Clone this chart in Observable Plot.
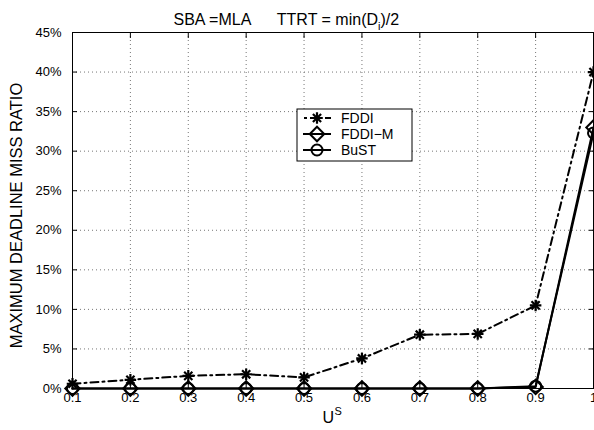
<!DOCTYPE html>
<html>
<head>
<meta charset="utf-8">
<script src="https://cdn.jsdelivr.net/npm/d3@7"></script>
<script src="https://cdn.jsdelivr.net/npm/@observablehq/plot@0.6"></script>
<style>
  html, body { margin: 0; padding: 0; background: #fff; }
  #chart { position: relative; width: 594px; height: 430px; }
  svg { font-family: "Liberation Sans", Arial, sans-serif; }
</style>
</head>
<body>
<div id="chart"></div>
<script>
// ---- data ----
const us = [0.1, 0.2, 0.3, 0.4, 0.5, 0.6, 0.7, 0.8, 0.9, 1.0];
const fddi  = [0.6, 1.1, 1.6, 1.8, 1.4, 3.8, 6.8, 6.9, 10.5, 40.0];
const fddiM = [0, 0, 0, 0, 0, 0, 0, 0, 0.2, 33.0];
const bust  = [0, 0, 0, 0, 0, 0, 0, 0, 0.3, 32.3];
const seriesNames = ["FDDI", "FDDI\u2212M", "BuST"];
const xTicks = [0.1, 0.2, 0.3, 0.4, 0.5, 0.6, 0.7, 0.8, 0.9, 1.0];
const xTickLabels = ["0.1", "0.2", "0.3", "0.4", "0.5", "0.6", "0.7", "0.8", "0.9", "1"];
const yTicks = [0, 5, 10, 15, 20, 25, 30, 35, 40, 45];
const yTickLabels = ["0%", "5%", "10%", "15%", "20%", "25%", "30%", "35%", "40%", "45%"];

const rows = (name, vals) => us.map((u, i) => ({u, v: vals[i], name}));
const dFDDI = rows(seriesNames[0], fddi);
const dFDDIM = rows(seriesNames[1], fddiM);
const dBuST = rows(seriesNames[2], bust);

const W = 594, H = 430;
const mL = 72, mR = 1, mT = 32, mB = 42;
const fs = 13;

const plot = Plot.plot({
  width: W, height: H,
  marginLeft: mL, marginRight: mR, marginTop: mT, marginBottom: mB,
  style: {fontFamily: "'Liberation Sans', Arial, sans-serif", fontSize: fs + "px", color: "#000", background: "#fff"},
  x: {domain: [0.1, 1.0], ticks: xTicks},
  y: {domain: [0, 45], ticks: yTicks},
  marks: [
    Plot.gridX(xTicks, {stroke: "#777", strokeOpacity: 1, strokeDasharray: "1,3"}),
    Plot.gridY(yTicks, {stroke: "#777", strokeOpacity: 1, strokeDasharray: "1,3"}),
    Plot.axisX(xTicks, {tickSize: -5, tickPadding: 9, tickFormat: d => xTickLabels[xTicks.indexOf(d)], label: null, fontSize: fs}),
    Plot.axisX(xTicks, {anchor: "top", tickSize: -5, tickFormat: () => "", label: null}),
    Plot.axisY(yTicks, {tickSize: -5, tickPadding: 16, tickFormat: d => yTickLabels[yTicks.indexOf(d)], label: null, fontSize: fs}),
    Plot.axisY(yTicks, {anchor: "right", tickSize: -5, tickFormat: () => "", label: null}),
    Plot.frame({stroke: "#000", strokeWidth: 1}),
    // series lines
    Plot.line(dFDDI, {x: "u", y: "v", stroke: "#000", strokeWidth: 2, strokeDasharray: "8,4,2,4"}),
    Plot.line(dFDDIM, {x: "u", y: "v", stroke: "#000", strokeWidth: 2}),
    Plot.line(dBuST, {x: "u", y: "v", stroke: "#000", strokeWidth: 2}),
    // markers
    Plot.dot(dFDDI, {x: "u", y: "v", symbol: "plus", r: 3.8, stroke: "#000", strokeWidth: 2.2}),
    Plot.dot(dFDDI, {x: "u", y: "v", symbol: "times", r: 3.8, stroke: "#000", strokeWidth: 2.2}),
    Plot.dot(dFDDIM, {x: "u", y: "v", symbol: "diamond2", r: 6.5, stroke: "#000", fill: "none", strokeWidth: 2}),
    Plot.dot(dBuST, {x: "u", y: "v", symbol: "circle", r: 5.5, stroke: "#000", fill: "none", strokeWidth: 2}),
    // axis labels and title
    Plot.text(["MAXIMUM DEADLINE MISS RATIO"], {frameAnchor: "left", rotate: -90, dx: -56, dy: 5, textAnchor: "middle", fontSize: 16.5}),
    Plot.text(["U"], {frameAnchor: "bottom-left", dx: 250, dy: 34, fontSize: 16, textAnchor: "start"}),
    Plot.text(["S"], {frameAnchor: "bottom-left", dx: 262, dy: 26, fontSize: 11, textAnchor: "start"}),
    Plot.text(["SBA =MLA      TTRT = min(D"], {frameAnchor: "top-left", dx: 101, dy: -19, fontSize: 16, textAnchor: "start"})
  ]
});

document.getElementById("chart").appendChild(plot);

const svg = d3.select(plot);
// subscript part of the title
svg.selectAll("text").each(function() {
  const t = d3.select(this);
  if (t.text() === "SBA =MLA      TTRT = min(D") {
    t.style("white-space", "pre");
    t.append("tspan").attr("dy", 5).attr("font-size", 11).text("i");
    t.append("tspan").attr("dy", -5).text(")/2");
  }
});

// legend (drawn into the same svg)
const leg = svg.append("g").attr("transform", "translate(297,109)").attr("text-anchor", "start");
leg.append("rect").attr("width", 115).attr("height", 52).attr("fill", "#fff").attr("stroke", "#000").attr("stroke-width", 1);
const rowsY = [9, 25, 41];
seriesNames.forEach((name, i) => {
  const y = rowsY[i];
  const g = leg.append("g").attr("transform", `translate(0,${y})`);
  const line = g.append("line").attr("x1", 6).attr("x2", 34).attr("y1", 0).attr("y2", 0)
    .attr("stroke", "#000").attr("stroke-width", 2);
  if (i === 0) line.attr("stroke-dasharray", "3,3,6,3").attr("x1", 7);
  if (i === 0) {
    g.append("path").attr("transform", "translate(20,0)").attr("d", d3.symbol(d3.symbolPlus, Math.PI * 3.8 * 3.8)()).attr("stroke", "#000").attr("stroke-width", 2.2).attr("fill", "none");
    g.append("path").attr("transform", "translate(20,0)").attr("d", d3.symbol(d3.symbolTimes, Math.PI * 3.8 * 3.8)()).attr("stroke", "#000").attr("stroke-width", 2.2).attr("fill", "none");
  } else if (i === 1) {
    g.append("path").attr("transform", "translate(20,0)").attr("d", d3.symbol(d3.symbolDiamond2, Math.PI * 6.5 * 6.5)()).attr("stroke", "#000").attr("stroke-width", 2).attr("fill", "none");
  } else {
    g.append("circle").attr("cx", 20).attr("r", 5.5).attr("stroke", "#000").attr("stroke-width", 2).attr("fill", "none");
  }
  g.append("text").attr("x", 44).attr("y", 0).attr("dy", "0.35em").attr("font-size", 14).attr("text-anchor", "start").text(name);
});
</script>
</body>
</html>
